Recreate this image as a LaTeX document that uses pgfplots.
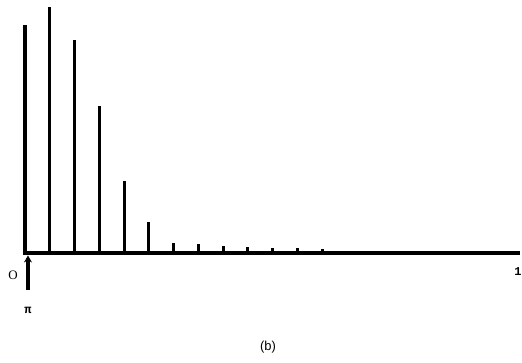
\documentclass[border=0pt]{standalone}
\usepackage{pgfplots}
\pgfplotsset{compat=1.18}
\usetikzlibrary{arrows.meta}
\usepackage{fontspec}
\setmainfont{Liberation Serif}
\newfontfamily\sansf{Liberation Sans}
\newfontfamily\monof{Liberation Mono}
\begin{document}
\begin{tikzpicture}
\useasboundingbox (-25bp,-110bp) rectangle (497bp,253bp);
\begin{axis}[
  scale only axis,
  width=495bp, height=246bp,
  xmin=0, xmax=1.0, ymin=0, ymax=1,
  axis x line=bottom, axis y line=none,
  axis line style={line width=3.2bp, -, shorten <=-2bp},
  xtick=\empty, ytick=\empty,
  clip=false,
]
\addplot[ycomb, black, line width=3bp, mark=none] coordinates {
  (0.00,0.927) (0.05,1.00) (0.10,0.866) (0.15,0.598) (0.20,0.293)
  (0.25,0.128) (0.30,0.042) (0.35,0.035) (0.40,0.028) (0.45,0.024)
  (0.50,0.020) (0.55,0.020) (0.60,0.016)
};
\draw[line width=3.2bp, -{Stealth[length=7bp,width=8bp]}] (axis cs:0.006,-0.150) -- (axis cs:0.006,-0.010);
\node[font=\fontsize{13}{14}\selectfont] at (axis cs:-0.024,-0.089) {O};
\node[font=\monof\bfseries\fontsize{12}{13}\selectfont] at (axis cs:0.996,-0.077) {1};
\node[font=\monof\bfseries\fontsize{12}{13}\selectfont] at (axis cs:0.006,-0.232) {π};
\node[font=\sansf\fontsize{13}{14}\selectfont] at (axis cs:0.491,-0.382) {(b)};
\end{axis}
\end{tikzpicture}
\end{document}
